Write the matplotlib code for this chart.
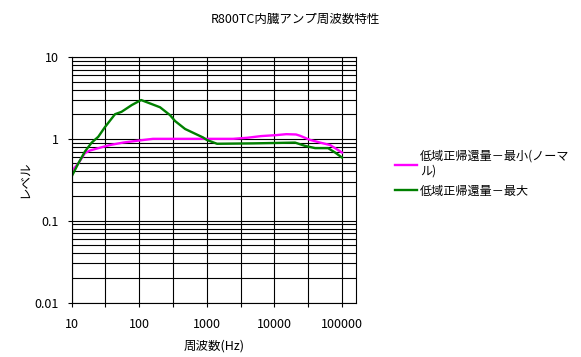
import matplotlib

matplotlib.use("Agg")
import matplotlib.pyplot as plt
from matplotlib.ticker import FixedLocator, NullFormatter, NullLocator

plt.rcParams["font.family"] = ["Noto Sans CJK JP", "DejaVu Sans"]

TITLE = "R800TC内臓アンプ周波数特性"
X_LABEL = "周波数(Hz)"
Y_LABEL = "レベル"
LABEL_MIN = "低域正帰還量－最小(ノーマ\nル)"
LABEL_MAX = "低域正帰還量－最大"

# minimum feedback (normal)
freq_min = [10, 12.6, 15.8, 18.8, 23.6, 37, 58, 96, 160, 1000, 2450, 3950, 6360,
            10600, 15000, 20900, 24000, 33700, 47400, 66700, 100000]
level_min = [0.40, 0.50, 0.67, 0.72, 0.76, 0.84, 0.90, 0.95, 1.0, 1.0, 1.0, 1.03, 1.08,
             1.11, 1.14, 1.13, 1.09, 0.97, 0.90, 0.84, 0.68]

# maximum feedback
freq_max = [10, 12.6, 15.8, 19.9, 24.9, 31, 44, 55, 78, 107, 204, 286, 340, 478, 880,
            1000, 1420, 4840, 20200, 28400, 40000, 62200, 79000, 100000]
level_max = [0.344, 0.50, 0.70, 0.90, 1.06, 1.38, 2.0, 2.14, 2.59, 2.98, 2.43, 1.95,
             1.65, 1.32, 1.04, 0.97, 0.87, 0.88, 0.90, 0.82, 0.77, 0.77, 0.68, 0.59]

x_grid = [10, 31.6, 100, 316, 1000, 3162, 10000, 31623, 100000]
x_tick_labels = ["10", "", "100", "", "1000", "", "10000", "", "100000"]
y_ticks = [0.01, 0.1, 1, 10]
y_tick_labels = ["0.01", "0.1", "1", "10"]
y_minor = [m * 10.0 ** e for e in range(-2, 1) for m in range(2, 10)]

fig = plt.figure(figsize=(5.81, 3.57), dpi=100)
ax = fig.add_axes([71.5 / 581, 1 - 302.5 / 357, (356 - 71.5) / 581, (302.5 - 57) / 357])

ax.set_xscale("log")
ax.set_yscale("log")
ax.set_xlim(10, 161000)
ax.set_ylim(0.01, 10)

# vertical grid every half decade, horizontal grid at 1..9 per decade
ax.xaxis.set_major_locator(FixedLocator(x_grid))
ax.xaxis.set_minor_locator(NullLocator())
ax.set_xticklabels(x_tick_labels)
ax.yaxis.set_major_locator(FixedLocator(y_ticks))
ax.set_yticklabels(y_tick_labels)
ax.yaxis.set_minor_locator(FixedLocator(y_minor))
ax.yaxis.set_minor_formatter(NullFormatter())
ax.tick_params(which="minor", length=0)
ax.tick_params(which="major", length=3, width=0.8, color="black", labelsize=9)
ax.tick_params(axis="x", pad=8)
ax.tick_params(axis="y", pad=6)

ax.grid(True, which="major", color="black", linewidth=0.8)
ax.grid(True, which="minor", axis="y", color="black", linewidth=0.8)
ax.set_axisbelow(True)
for side in ("top", "right", "left", "bottom"):
    ax.spines[side].set_linewidth(0.8)

ax.plot(freq_min, level_min, color="#ff00ff", linewidth=1.7, label=LABEL_MIN)
ax.plot(freq_max, level_max, color="#008000", linewidth=1.7, label=LABEL_MAX)

ax.set_xlabel(X_LABEL, fontsize=9, labelpad=6)
ax.set_ylabel(Y_LABEL, fontsize=9, labelpad=3)
fig.text(0.508, 0.945, TITLE, ha="center", va="center", fontsize=9)

ax.legend(loc="upper left", bbox_to_anchor=(384 / 581, 1 - 139 / 357),
          bbox_transform=fig.transFigure, frameon=False, fontsize=8.7,
          handlelength=1.8, handletextpad=0.3, labelspacing=0.55)

fig.savefig("out.png", dpi=100)
